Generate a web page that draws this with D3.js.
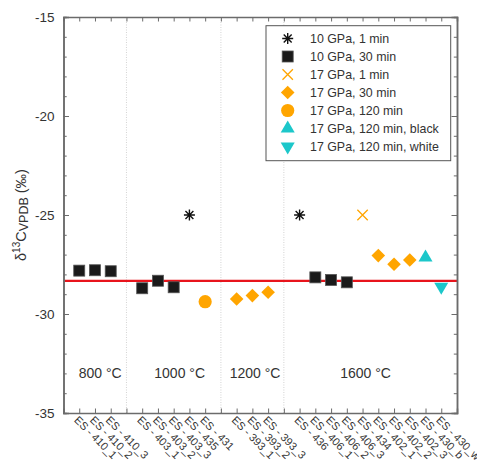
<!DOCTYPE html>
<html><head><meta charset="utf-8">
<script src="https://cdn.jsdelivr.net/npm/d3@7"></script>
<style>body{margin:0;background:#fff;} text{font-family:"Liberation Sans",Arial,sans-serif;}</style>
</head><body><svg id="c" width="477" height="461"></svg>
<script>
// ---- data ----
const sampleLabels = ["ES - 410_1","ES - 410_2","ES - 410_3","","ES - 403_1","ES - 403_2","ES - 403_3","ES - 435","ES - 431","","ES - 393_1","ES - 393_2","ES - 393_3","","ES - 436","ES - 406_1","ES - 406_2","ES - 406_3","ES - 434","ES - 402_1","ES - 402_2","ES - 402_3","ES - 430_b","ES - 430_w"];
const groupDividers = [4, 10, 14];
const tempLabels = ["800 °C","1000 °C","1200 °C","1600 °C"];
const tempLabelPos = [2.33, 7.38, 12.17, 19.19];
const yTicksMajor = [-35,-30,-25,-20,-15];
const referenceValue = -28.33;

const s10GPa1min = [[8,-25.0],[15,-25.0]];
const s10GPa30min = [[1,-27.81],[2,-27.79],[3,-27.84],[5,-28.7],[6,-28.32],[7,-28.65],[16,-28.15],[17,-28.28],[18,-28.4]];
const s17GPa1min = [[19,-25.0]];
const s17GPa30min = [[11,-29.24],[12,-29.07],[13,-28.9],[20,-27.05],[21,-27.49],[22,-27.27]];
const s17GPa120min = [[9,-29.38]];
const s17GPa120black = [[23,-27.15]];
const s17GPa120white = [[24,-28.62]];

const seriesNames = ["10 GPa, 1 min","10 GPa, 30 min","17 GPa, 1 min","17 GPa, 30 min","17 GPa, 120 min","17 GPa, 120 min, black","17 GPa, 120 min, white"];

// ---- drawing ----
const svg = d3.select("#c");
const L = 63.5, R = 457, T = 17, B = 413;
const x = d3.scaleLinear().domain([0,25]).range([L,R]);
const y = d3.scaleLinear().domain([-35,-15]).range([B,T]);
const axisCol = "#6b6b6b", textCol = "#333";
const orange = "#FFA500", cyan = "#1CC7CA";

// grid dividers
svg.append("g").selectAll("line").data(groupDividers).join("line")
  .attr("x1", d=>x(d)).attr("x2", d=>x(d)).attr("y1", T).attr("y2", B)
  .attr("stroke", "#c8c8c8").attr("stroke-width", 0.8).attr("stroke-dasharray", "1,1.5");

// reference line
svg.append("line").attr("x1", L).attr("x2", R).attr("y1", y(referenceValue)).attr("y2", y(referenceValue))
  .attr("stroke", "#e8141c").attr("stroke-width", 2.2);

// axes
const xIdx = d3.range(1, 25);
const yMinor = d3.range(-35, -14, 1);
const gB = svg.append("g").attr("transform", `translate(0,${B})`)
  .call(d3.axisBottom(x).tickValues(xIdx).tickSize(-4.5).tickFormat(""));
const gT = svg.append("g").attr("transform", `translate(0,${T})`)
  .call(d3.axisTop(x).tickValues(xIdx).tickSize(-4.5).tickFormat(""));
const gL = svg.append("g").attr("transform", `translate(${L},0)`)
  .call(d3.axisLeft(y).tickValues(yMinor).tickSize(-3.2).tickFormat(""));
const gL2 = svg.append("g").attr("transform", `translate(${L},0)`)
  .call(d3.axisLeft(y).tickValues(yTicksMajor).tickSize(-5.5).tickPadding(9).tickFormat(d3.format("d")));
const gR = svg.append("g").attr("transform", `translate(${R},0)`)
  .call(d3.axisRight(y).tickValues(yMinor).tickSize(-3.2).tickFormat(""));
const gR2 = svg.append("g").attr("transform", `translate(${R},0)`)
  .call(d3.axisRight(y).tickValues(yTicksMajor).tickSize(-5.5).tickFormat(""));
[gB,gT,gL,gL2,gR,gR2].forEach(g=>{
  g.selectAll("path.domain").attr("stroke", axisCol).attr("stroke-width", 1.5);
  g.selectAll(".tick line").attr("stroke", axisCol).attr("stroke-width", 1);
});
gL2.selectAll(".tick text").attr("font-size", 13.5).attr("fill", textCol)
  .attr("font-family", "Liberation Sans, Arial, sans-serif").text(d=>d3.format("d")(d).replace("−","-"));

// x tick labels (rotated)
svg.append("g").selectAll("text").data(sampleLabels.map((t,i)=>({t, p:i+1})).filter(d=>d.t))
  .join("text")
  .attr("transform", d=>`translate(${x(d.p)-3},${B+5}) rotate(45)`)
  .attr("font-size", 11).attr("fill", textCol).attr("dy", "0.35em")
  .text(d=>d.t);

// temperature labels
svg.append("g").selectAll("text").data(tempLabels).join("text")
  .attr("x", (d,i)=>x(tempLabelPos[i])).attr("y", y(-33)).attr("dy","0.35em")
  .attr("text-anchor","middle").attr("font-size", 14).attr("fill", textCol).text(d=>d);

// y title
const yt = svg.append("text").attr("transform", `translate(26,${(T+B)/2}) rotate(-90)`)
  .attr("text-anchor","middle").attr("font-size", 14.5).attr("fill", textCol);
yt.append("tspan").text("δ");
yt.append("tspan").attr("font-size", 10).attr("dy", -6).text("13");
yt.append("tspan").attr("dy", 6).text("C");
yt.append("tspan").attr("font-size", 12.5).attr("dy", 2).text("VPDB");
yt.append("tspan").attr("dy", -2).text(" (‰)");

// symbols
function drawSym(g, type, cx, cy) {
  if (type === 0) { // asterisk
    const r = 5.5, d = r*0.72;
    g.append("path").attr("d", `M${cx},${cy-r}L${cx},${cy+r}M${cx-r},${cy}L${cx+r},${cy}M${cx-d},${cy-d}L${cx+d},${cy+d}M${cx-d},${cy+d}L${cx+d},${cy-d}`)
      .attr("stroke", "#111").attr("stroke-width", 1.4).attr("fill","none");
  } else if (type === 1) {
    g.append("rect").attr("x", cx-5.5).attr("y", cy-5.5).attr("width", 11).attr("height", 11)
      .attr("fill", "#1a1a1a").attr("stroke", "#555").attr("stroke-width", 0.8);
  } else if (type === 2) {
    const r = 5.2;
    g.append("path").attr("d", `M${cx-r},${cy-r}L${cx+r},${cy+r}M${cx-r},${cy+r}L${cx+r},${cy-r}`)
      .attr("stroke", orange).attr("stroke-width", 1.3).attr("fill","none");
  } else if (type === 3) {
    const r = 6.8;
    g.append("path").attr("d", `M${cx},${cy-r}L${cx+r},${cy}L${cx},${cy+r}L${cx-r},${cy}Z`).attr("fill", orange);
  } else if (type === 4) {
    g.append("circle").attr("cx", cx).attr("cy", cy).attr("r", 6.6).attr("fill", orange);
  } else if (type === 5) {
    g.append("path").attr("d", `M${cx},${cy-8}L${cx+7},${cy+4}L${cx-7},${cy+4}Z`).attr("fill", cyan);
  } else if (type === 6) {
    g.append("path").attr("d", `M${cx},${cy+8}L${cx+7},${cy-4}L${cx-7},${cy-4}Z`).attr("fill", cyan);
  }
}
const allSeries = [s10GPa1min, s10GPa30min, s17GPa1min, s17GPa30min, s17GPa120min, s17GPa120black, s17GPa120white];
const gPts = svg.append("g");
allSeries.forEach((s, k) => s.forEach(d => drawSym(gPts, k, x(d[0]), y(d[1]))));

// legend
const lg = svg.append("g");
lg.append("rect").attr("x", 266).attr("y", 25.7).attr("width", 184.7).attr("height", 135)
  .attr("fill", "#fff").attr("stroke", "#555").attr("stroke-width", 1);
seriesNames.forEach((n, i) => {
  const cy = 38.5 + i*18;
  drawSym(lg, i, 287.7, cy);
  lg.append("text").attr("x", 310).attr("y", cy).attr("dy","0.35em").attr("font-size", 12.4).attr("fill", textCol).text(n);
});
</script></body></html>
